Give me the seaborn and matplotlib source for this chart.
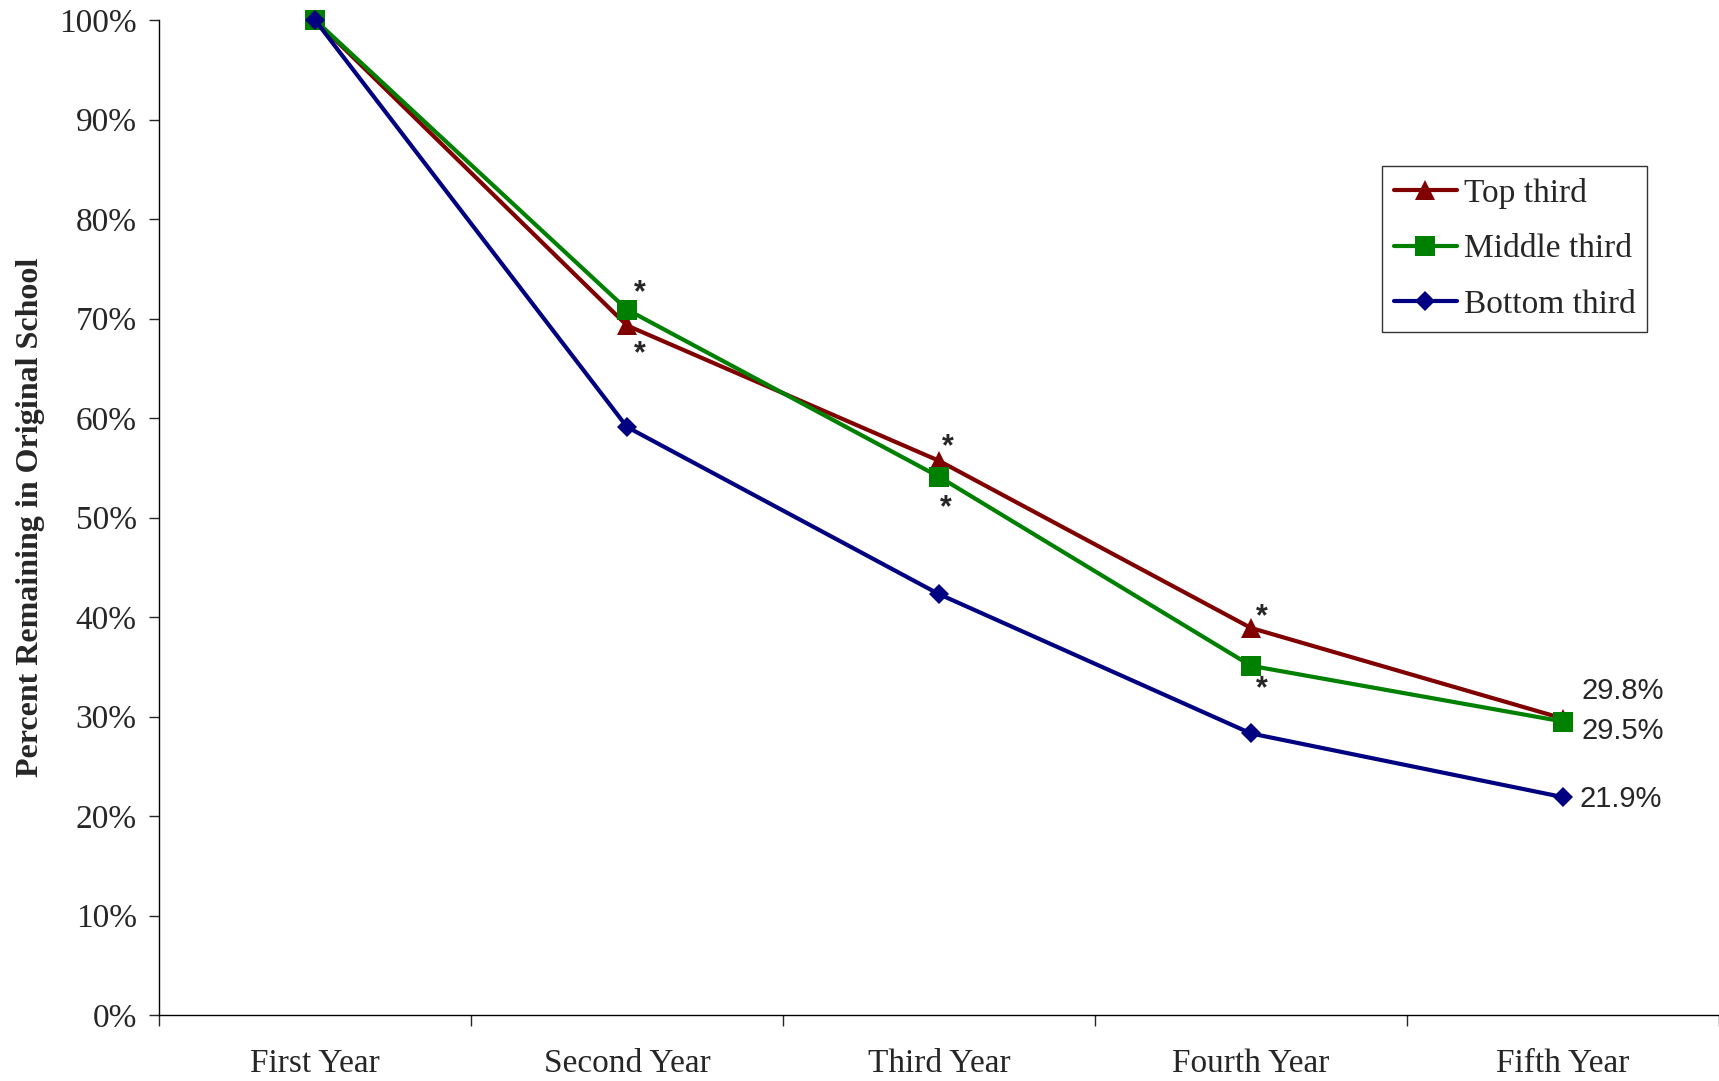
import numpy as np
import pandas as pd
import seaborn as sns
import matplotlib.pyplot as plt
from matplotlib.ticker import PercentFormatter

years = ['First Year', 'Second Year', 'Third Year', 'Fourth Year', 'Fifth Year']
top_third = [100.0, 69.3, 55.7, 38.9, 29.8]
middle_third = [100.0, 70.9, 54.1, 35.1, 29.5]
bottom_third = [100.0, 59.1, 42.3, 28.3, 21.9]
groups = ['Top third', 'Middle third', 'Bottom third']
colors = ['#800000', '#008000', '#000080']
markers = ['^', 's', 'D']
marker_sizes = [14, 15, 10.5]

# asterisks: (group index, year index, offset in points)
stars = [(1, 1, (9, 12)), (0, 1, (9, -21)),
         (0, 2, (6, 10)), (1, 2, (5, -23)),
         (0, 3, (8, 8)), (1, 3, (8, -17))]
end_offsets = [(13, 20), (13, -7), (12, -1)]

df = pd.DataFrame({
    'year': years * 3,
    'pct': top_third + middle_third + bottom_third,
    'group': np.repeat(groups, len(years)),
})

sns.set_style('white')
plt.rcParams['font.family'] = ['Liberation Serif', 'DejaVu Serif']

fig = plt.figure(figsize=(17.19, 10.81), dpi=100)
ax = fig.add_axes([0.0925, 0.061, 0.9075, 0.9205])

for g, c, m, ms in zip(groups, colors, markers, marker_sizes):
    sns.lineplot(data=df[df['group'] == g], x='year', y='pct', ax=ax,
                 color=c, marker=m, markersize=ms, markeredgewidth=0,
                 linewidth=3, label=g, clip_on=False)

values = [top_third, middle_third, bottom_third]
for gi, yi, off in stars:
    ax.annotate('*', (yi, values[gi][yi]), xytext=off, textcoords='offset points',
                fontsize=22, fontweight='bold', family='Liberation Sans',
                ha='center', va='center')
for gi, off in enumerate(end_offsets):
    v = values[gi][-1]
    ax.annotate(f'{v:.1f}%', (4, v), xytext=off, textcoords='offset points',
                fontsize=21, family='Liberation Sans', ha='left', va='center')

ax.set_xlim(-0.5, 4.5)
ax.set_ylim(0, 100)
ax.set_yticks(np.arange(0, 101, 10))
ax.yaxis.set_major_formatter(PercentFormatter(decimals=0))
ax.set_xticks(range(len(years)), years)
ax.set_xticks(np.arange(-0.5, 5, 1), minor=True)
ax.tick_params(axis='x', which='major', length=0, pad=24, labelsize=24)
ax.tick_params(axis='x', which='minor', length=8, width=1, direction='out', bottom=True)
ax.tick_params(axis='y', length=7, width=1, direction='out', left=True, labelsize=24, pad=9)

sns.despine(ax=ax)
for s in ['left', 'bottom']:
    ax.spines[s].set_color('black')
    ax.spines[s].set_linewidth(1)

ax.set_xlabel('')
ax.set_ylabel('Percent Remaining in Original School', fontsize=23, fontweight='bold', labelpad=10)

leg = ax.legend(loc='upper left', bbox_to_anchor=(0.784, 0.853), fontsize=24,
                frameon=True, fancybox=False, handlelength=1.9, handletextpad=0.2,
                borderpad=0.35, labelspacing=0.75, borderaxespad=0)
leg.get_frame().set_edgecolor('black')
leg.get_frame().set_linewidth(1)

fig.savefig('out.png', dpi=100)
